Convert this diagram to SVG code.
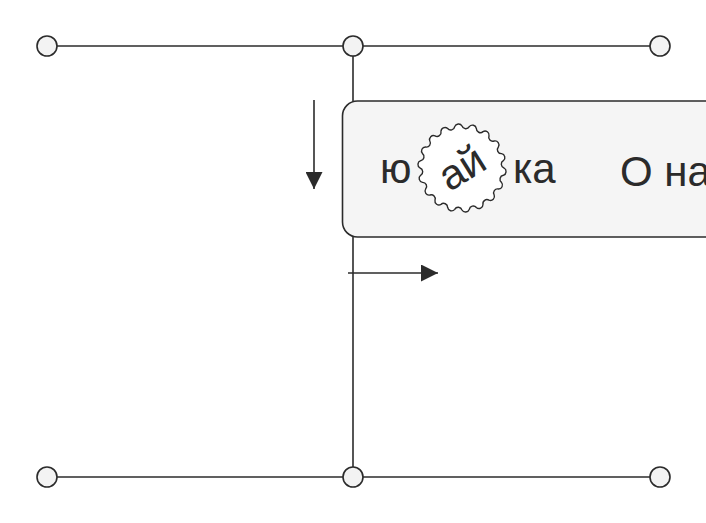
<svg xmlns="http://www.w3.org/2000/svg" width="706" height="523" viewBox="0 0 706 523">
<defs>
<style>
.ln{stroke:#2b2b2b;stroke-width:1.6;fill:none}
.pt{fill:#f3f3f3;stroke:#2b2b2b;stroke-width:1.6}
.tx{font-family:"Liberation Sans",Arial,sans-serif;fill:#2b2b2b}
</style>
<marker id="ah" viewBox="0 0 10 10" refX="10" refY="5" markerWidth="17" markerHeight="17" markerUnits="userSpaceOnUse" orient="auto">
<path d="M0,0 L10,5 L0,10 Z" fill="#2b2b2b"/>
</marker>
</defs>
<rect width="706" height="523" fill="#ffffff"/>
<g id="connectors">
<line class="ln" x1="57" y1="46" x2="343" y2="46"/>
<line class="ln" x1="363" y1="46" x2="650" y2="46"/>
<line class="ln" x1="57" y1="477" x2="343" y2="477"/>
<line class="ln" x1="363" y1="477" x2="650" y2="477"/>
<line class="ln" x1="353" y1="56" x2="353" y2="467"/>
<line class="ln" x1="314" y1="100" x2="314" y2="189" marker-end="url(#ah)"/>
<line class="ln" x1="348" y1="273" x2="438" y2="273" marker-end="url(#ah)"/>
</g>
<g id="node-tl"><circle class="pt" cx="47" cy="46" r="10"/></g>
<g id="node-tm"><circle class="pt" cx="353" cy="46" r="10"/></g>
<g id="node-tr"><circle class="pt" cx="660" cy="46" r="10"/></g>
<g id="node-bl"><circle class="pt" cx="47" cy="477" r="10"/></g>
<g id="node-bm"><circle class="pt" cx="353" cy="477" r="10"/></g>
<g id="node-br"><circle class="pt" cx="660" cy="477" r="10"/></g>
<g id="node-menu">
<rect x="342.5" y="101" width="400" height="136" rx="15" fill="#f5f5f5" stroke="#2b2b2b" stroke-width="1.6"/>
<text class="tx" x="380" y="183" font-size="42">ю</text>
<text class="tx" x="513" y="183" font-size="42">ка</text>
<text class="tx" x="620" y="186" font-size="42">О нас</text>
</g>
<g id="node-badge">
<path fill="#ffffff" stroke="#2b2b2b" stroke-width="1.4" d="M504,168 A4,4 0 0 1 503.36,175.29 A4,4 0 0 0 501.47,182.36 A4,4 0 0 1 498.37,189 A4,4 0 0 0 494.17,195 A4,4 0 0 1 489,200.17 A4,4 0 0 0 483,204.37 A4,4 0 0 1 476.36,207.47 A4,4 0 0 0 469.29,209.36 A4,4 0 0 1 462,210 A4,4 0 0 0 454.71,209.36 A4,4 0 0 1 447.64,207.47 A4,4 0 0 0 441,204.37 A4,4 0 0 1 435,200.17 A4,4 0 0 0 429.83,195 A4,4 0 0 1 425.63,189 A4,4 0 0 0 422.53,182.36 A4,4 0 0 1 420.64,175.29 A4,4 0 0 0 420,168 A4,4 0 0 1 420.64,160.71 A4,4 0 0 0 422.53,153.64 A4,4 0 0 1 425.63,147 A4,4 0 0 0 429.83,141 A4,4 0 0 1 435,135.83 A4,4 0 0 0 441,131.63 A4,4 0 0 1 447.64,128.53 A4,4 0 0 0 454.71,126.64 A4,4 0 0 1 462,126 A4,4 0 0 0 469.29,126.64 A4,4 0 0 1 476.36,128.53 A4,4 0 0 0 483,131.63 A4,4 0 0 1 489,135.83 A4,4 0 0 0 494.17,141 A4,4 0 0 1 498.37,147 A4,4 0 0 0 501.47,153.64 A4,4 0 0 1 503.36,160.71 A4,4 0 0 0 504,168 Z"/>
<text class="tx" x="462" y="182" font-size="42" text-anchor="middle" transform="rotate(-32 462 168)">ай</text>
</g>
</svg>
